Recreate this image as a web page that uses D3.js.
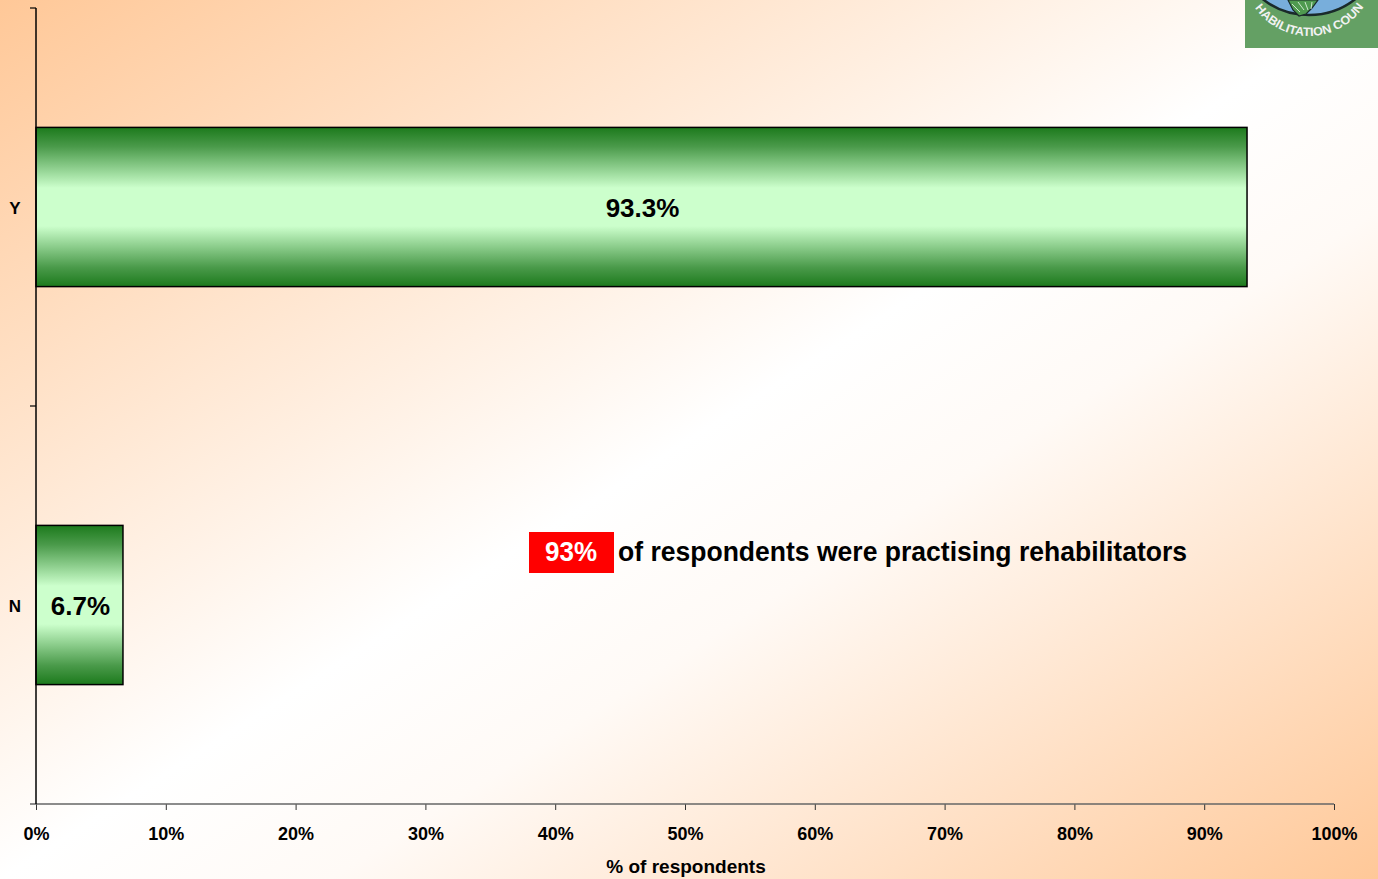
<!DOCTYPE html>
<html><head><meta charset="utf-8">
<script src="https://cdn.jsdelivr.net/npm/d3@7"></script>
<style>html,body{margin:0;padding:0;overflow:hidden;}svg{display:block;font-family:Arial,"Liberation Sans",sans-serif;}</style>
</head><body>
<script>
const categories = ["Y", "N"];
const values = [93.3, 6.7];
const barLabels = ["93.3%", "6.7%"];
const tickValues = [0,10,20,30,40,50,60,70,80,90,100];
const axisTitle = "% of respondents";
const noteHighlight = "93%";
const noteText = "of respondents were practising rehabilitators";
const logoText = "HABILITATION COUN";

(function(){
const W = 1378, H = 879;
const svg = d3.select("body").append("svg").attr("width", W).attr("height", H);
const defs = svg.append("defs");

const bg = defs.append("linearGradient").attr("id","bg").attr("x1","0").attr("y1","0").attr("x2","1").attr("y2","1");
bg.append("stop").attr("offset","0").attr("stop-color","#ffc898");
bg.append("stop").attr("offset","0.5").attr("stop-color","#ffffff");
bg.append("stop").attr("offset","0.62").attr("stop-color","#fffaf6");
bg.append("stop").attr("offset","1").attr("stop-color","#ffc898");
svg.append("rect").attr("width",W).attr("height",H).attr("fill","url(#bg)");

const bar = defs.append("linearGradient").attr("id","bar").attr("x1","0").attr("y1","0").attr("x2","0").attr("y2","1");
[[0,"#1c7a1c"],[0.12,"#4a9a4a"],[0.38,"#ccffcc"],[0.62,"#ccffcc"],[0.88,"#4a9a4a"],[1,"#1c7a1c"]].forEach(s=>
  bar.append("stop").attr("offset",s[0]).attr("stop-color",s[1]));

const mLeft = 36, mRight = 1334, mTop = 8, mBottom = 804;
const x = d3.scaleLinear().domain([0,100]).range([mLeft,mRight]);
const y = d3.scaleBand().domain(categories).range([mTop,mBottom]).paddingInner(0.6).paddingOuter(0.3);

// bars
svg.selectAll("rect.bar").data(categories).join("rect").attr("class","bar")
  .attr("x", x(0)).attr("y", d=>y(d))
  .attr("width", (d,i)=>x(values[i])-x(0)).attr("height", y.bandwidth())
  .attr("fill","url(#bar)").attr("stroke","#000").attr("stroke-width",1.5);

svg.selectAll("text.bl").data(categories).join("text").attr("class","bl")
  .attr("x",(d,i)=>(x(0)+x(values[i]))/2 + 1).attr("y",d=>y(d)+y.bandwidth()/2 + 1)
  .attr("dy","0.35em").attr("text-anchor","middle")
  .attr("font-size",26).attr("font-weight","bold").attr("fill","#000")
  .text((d,i)=>barLabels[i]);

// x axis
const xa = svg.append("g").attr("transform",`translate(0,${mBottom})`)
  .call(d3.axisBottom(x).tickValues(tickValues).tickFormat(d=>d+"%").tickSize(6).tickSizeOuter(0));
xa.select(".domain").remove();
xa.append("line").attr("x1",30).attr("x2",mRight).attr("stroke","#666").attr("stroke-width",1.5);
xa.selectAll(".tick line").attr("stroke","#333");
xa.selectAll(".tick text").attr("font-size",18).attr("font-weight","bold").attr("fill","#000")
  .attr("font-family","Arial, 'Liberation Sans', sans-serif").attr("y",30).attr("dy","0.35em");

// y axis
svg.append("line").attr("x1",mLeft).attr("x2",mLeft).attr("y1",mTop).attr("y2",mBottom).attr("stroke","#000").attr("stroke-width",1.5);
[mTop, (mTop+mBottom)/2].forEach(v=>svg.append("line").attr("x1",mLeft-6).attr("x2",mLeft).attr("y1",v).attr("y2",v).attr("stroke","#000").attr("stroke-width",1.2));
svg.selectAll("text.cat").data(categories).join("text").attr("class","cat")
  .attr("x",15).attr("y",d=>y(d)+y.bandwidth()/2 + 1).attr("dy","0.35em").attr("text-anchor","middle")
  .attr("font-size",17).attr("font-weight","bold").text(d=>d);

svg.append("text").attr("x",686).attr("y",866).attr("dy","0.35em").attr("text-anchor","middle")
  .attr("font-size",19).attr("font-weight","bold").text(axisTitle);

// annotation
svg.append("rect").attr("x",529).attr("y",532).attr("width",85).attr("height",41).attr("fill","#ff0000");
svg.append("text").attr("x",545).attr("y",551).attr("dy","0.35em")
  .attr("font-size",28).attr("font-weight","bold").attr("fill","#fff")
  .attr("textLength",52).attr("lengthAdjust","spacingAndGlyphs").text(noteHighlight);
svg.append("text").attr("x",618).attr("y",551).attr("dy","0.35em")
  .attr("font-size",28).attr("font-weight","bold").attr("fill","#000")
  .attr("textLength",569).attr("lengthAdjust","spacingAndGlyphs").text(noteText);

// logo
const logo = svg.append("g");
logo.append("rect").attr("x",1245).attr("y",0).attr("width",133).attr("height",48).attr("fill","#64a064");
defs.append("clipPath").attr("id","lc").append("rect").attr("x",1245).attr("y",0).attr("width",133).attr("height",48);
const lg = logo.append("g").attr("clip-path","url(#lc)");
lg.append("circle").attr("cx",1309).attr("cy",-60).attr("r",75).attr("fill","#78aedb").attr("stroke","#1a2a2a").attr("stroke-width",2.5);
lg.append("path").attr("d","M1288,0 L1293,10 L1299,16 L1306,14 L1312,8 L1318,0 Z")
  .attr("fill","#4f9a4f").attr("stroke","#1a2a2a").attr("stroke-width",1.2);
lg.append("path").attr("d","M1292,4 L1300,12 M1298,2 L1304,10 M1305,2 L1308,10 M1312,2 L1311,9")
  .attr("stroke","#cde8cd").attr("stroke-width",1);
const tcx = 1309, tcy = -30, tr = 66;
defs.append("path").attr("id","arc").attr("d",`M${tcx-tr},${tcy} A${tr},${tr} 0 0,0 ${tcx+tr},${tcy}`);
logo.append("text").attr("font-size",12).attr("font-weight","bold").attr("fill","#f2f2f2")
  .append("textPath").attr("href","#arc").attr("startOffset",40)
  .attr("textLength",128).attr("lengthAdjust","spacingAndGlyphs").text(logoText);
})();
</script>
</body></html>
